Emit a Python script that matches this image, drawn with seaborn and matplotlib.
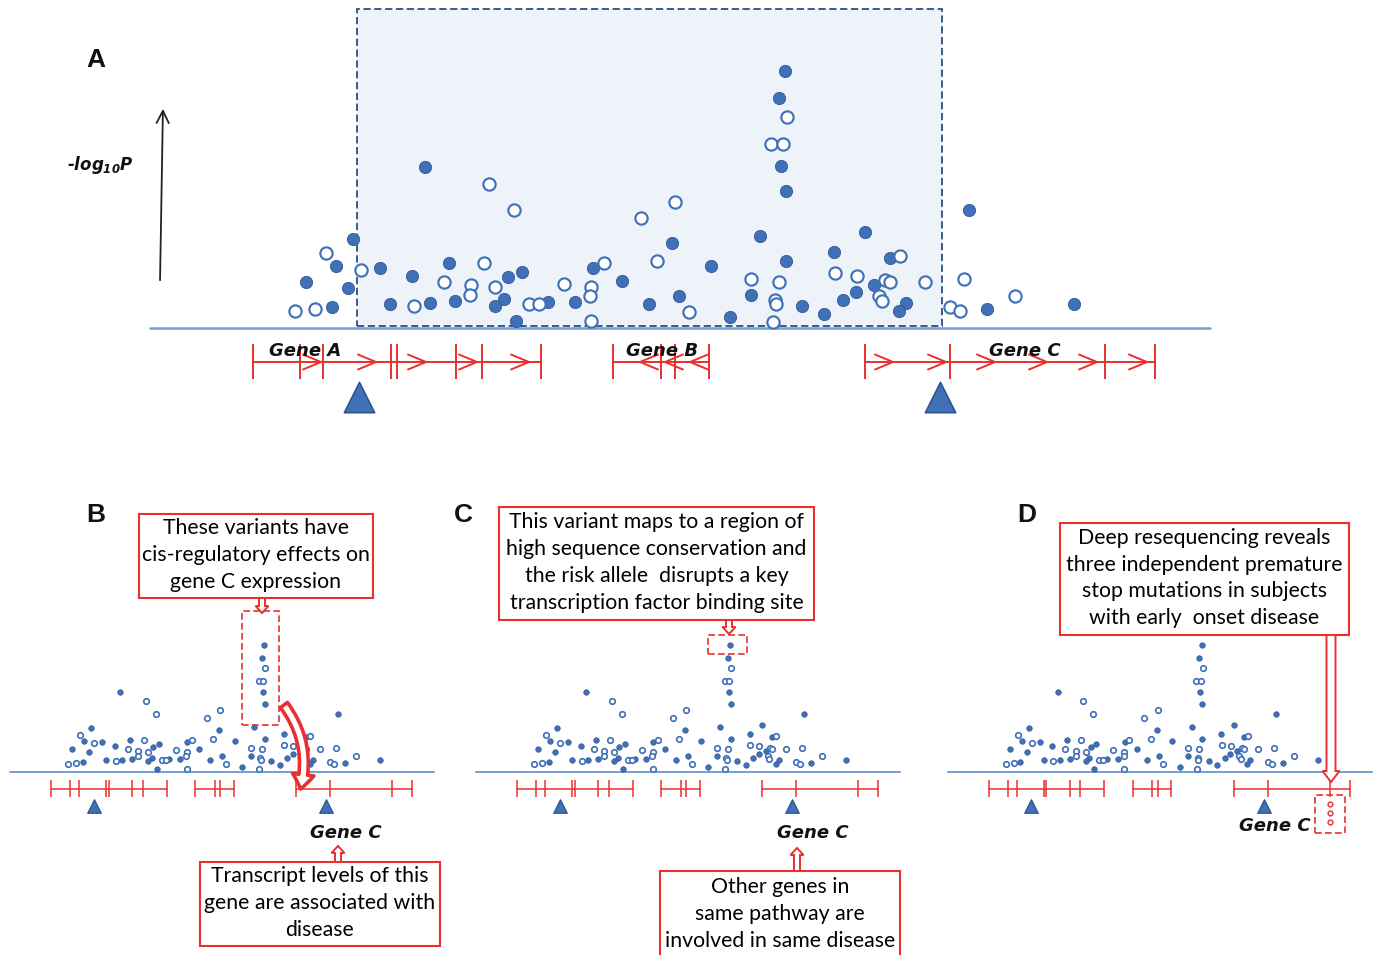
import pandas as pd
import seaborn as sns
import matplotlib.pyplot as plt
from matplotlib.patches import Rectangle, FancyArrow, FancyArrowPatch

# association signal across the locus: position (kb) and -log10 P
filled_pos = [182, 156, 186, 198, 203, 230, 240, 262, 275, 280, 299, 305, 358, 372, 354, 345,
              366, 398, 425, 443, 472, 499, 522, 529, 561, 580, 601, 610, 636, 636, 631, 629,
              635, 652, 674, 684, 693, 706, 715, 724, 740, 756, 749, 819, 837, 924]
filled_logp = [0.84, 1.84, 2.48, 1.6, 3.56, 2.4, 0.96, 2.08, 6.44, 1.0, 2.6, 1.08, 2.04, 2.24, 1.16, 0.88,
               0.28, 1.04, 1.04, 2.4, 1.88, 0.96, 3.4, 1.28, 2.48, 0.44, 1.32, 3.68, 2.68, 5.48, 6.48, 9.2,
               10.28, 0.88, 0.56, 3.04, 1.12, 1.44, 3.84, 1.72, 2.8, 1.0, 0.68, 4.72, 0.76, 0.96]
open_pos = [145, 165, 176, 211, 264, 294, 321, 320, 334, 339, 345, 364, 379, 389, 414, 441,
            440, 441, 454, 491, 507, 525, 539, 601, 625, 626, 623, 629, 621, 633, 637, 685,
            707, 729, 732, 735, 740, 750, 775, 800, 810, 814, 865]
open_logp = [0.68, 0.76, 3.0, 2.32, 0.88, 1.84, 1.72, 1.32, 2.6, 5.76, 1.64, 4.72, 0.96, 0.96, 1.76, 1.64,
             1.28, 0.28, 2.6, 4.4, 2.68, 5.04, 0.64, 1.96, 1.12, 0.96, 0.24, 1.84, 7.36, 7.36, 8.44, 2.2,
             2.08, 1.28, 1.08, 1.92, 1.84, 2.88, 1.84, 0.84, 0.68, 1.96, 1.28]

# gene models
gene_names = ["Gene A", "Gene B", "Gene C"]
gene_spans = [(103, 391), (463, 559), (715, 1005)]
gene_label_pos = [155, 512, 875]
exon_bounds = [103, 150, 173, 241, 247, 306, 332, 391, 463, 511, 525, 559, 715, 800, 955, 1005]
fwd_arrows = [171, 226, 276, 327, 379, 743, 796, 845, 897, 947, 997]
rev_arrows = [490, 515, 540]
lead_variants = [209, 790]
stop_pos = [955, 955, 955]
stop_logp = [-2.6, -3.3, -4.05]

snps = pd.DataFrame({
    "pos": filled_pos + open_pos,
    "logp": filled_logp + open_logp,
    "kind": ["filled"] * len(filled_pos) + ["open"] * len(open_pos),
})

BLUE = "#4070B8"
DARK = "#2C548F"
BASE = "#74A0D8"
RED = "#E8302F"
TRACK = -1.36
TRI = -2.75
W, H = 1380, 955

sns.set_theme(style="white")
plt.rcParams["mathtext.fontset"] = "custom"
plt.rcParams["mathtext.it"] = "DejaVu Sans:italic:bold"
plt.rcParams["mathtext.rm"] = "DejaVu Sans:italic:bold"

fig = plt.figure(figsize=(W / 100, H / 100), dpi=100)
fig.patch.set_facecolor("white")


def panel_axes(x0, sx, ybase, sy, xlim, ylim):
    # place an axes so that (pos, logp) land at the right pixels
    left = x0 + xlim[0] * sx
    right = x0 + xlim[1] * sx
    top = ybase - ylim[1] * sy
    bottom = ybase - ylim[0] * sy
    ax = fig.add_axes([left / W, 1 - bottom / H, (right - left) / W, (bottom - top) / H])
    return ax


def draw_locus(ax, dot, lw, tri, xlim, ylim, chevrons=False):
    ax.plot([0, 1060], [0, 0], color=BASE, lw=lw * 1.3, zorder=2)
    sns.scatterplot(data=snps[snps.kind == "filled"], x="pos", y="logp", s=dot, color=BLUE,
                    edgecolor=DARK, linewidth=lw * 0.4, ax=ax, zorder=4, legend=False)
    sns.scatterplot(data=snps[snps.kind == "open"], x="pos", y="logp", s=dot, color="white",
                    edgecolor=BLUE, linewidth=lw * 1.1, ax=ax, zorder=4, legend=False)
    for a, b in gene_spans:
        ax.plot([a, b], [TRACK, TRACK], color=RED, lw=lw, zorder=3)
    ax.vlines(exon_bounds, TRACK - 0.7, TRACK + 0.7, color=RED, lw=lw, zorder=3)
    if chevrons:
        for t in fwd_arrows:
            ax.plot([t - 18, t, t - 18], [TRACK + 0.3, TRACK, TRACK - 0.3], color=RED, lw=lw, zorder=3)
        for t in rev_arrows:
            ax.plot([t + 18, t, t + 18], [TRACK + 0.3, TRACK, TRACK - 0.3], color=RED, lw=lw, zorder=3)
    ax.scatter(lead_variants, [TRI] * len(lead_variants), marker="^", s=tri, color=BLUE,
               edgecolor=DARK, linewidth=lw * 0.8, zorder=4)
    ax.set_xlim(*xlim)
    ax.set_ylim(*ylim)
    ax.axis("off")


# panel A
xlA, ylA = (-150, 1230), (-4.08, 13.12)
axA = panel_axes(150, 1.0, 328, 25, xlA, ylA)
axA.add_patch(Rectangle((207, 0.08), 585, 12.68, facecolor="#EEF3FA", edgecolor="#2D4E80",
                        ls=(0, (4, 2)), lw=1.3, zorder=1))
draw_locus(axA, 78, 1.4, 480, xlA, ylA, chevrons=True)
for name, p in zip(gene_names, gene_label_pos):
    axA.text(p, -0.9, name, ha="center", va="center", fontsize=13, weight="bold",
             style="italic", family="DejaVu Sans", color="#111111", zorder=5)

# panels B, C, D: the same locus, shrunk
xlS, ylS = (-20, 1080), (-7, 13.5)
small = []
for x0 in [9.93, 475.93, 947.5]:
    ax = panel_axes(x0, 0.4005, 772, 12.35, xlS, ylS)
    draw_locus(ax, 16, 1.1, 95, xlS, ylS)
    small.append(ax)
axB, axC, axD = small

axB.add_patch(Rectangle((579, 3.8), 93, 9.2, fill=False, edgecolor=RED, ls=(0, (4, 2)), lw=1.2, zorder=5))
axB.add_patch(FancyArrowPatch((680, 5.6), (724, -1.6), connectionstyle="arc3,rad=-0.25",
                              arrowstyle="simple,tail_width=0.45,head_width=1.1,head_length=0.75",
                              mutation_scale=14, facecolor="white", edgecolor=RED, lw=2.6, zorder=6))
axC.add_patch(Rectangle((579, 9.55), 98, 1.55, fill=False, edgecolor=RED, ls=(0, (4, 2)), lw=1.2, zorder=5))
axD.add_patch(Rectangle((918, -4.94), 75, 3.08, fill=False, edgecolor=RED, ls=(0, (4, 2)), lw=1.2, zorder=5))
sns.scatterplot(x=stop_pos, y=stop_logp, s=12, color="white", edgecolor=RED, linewidth=1.0,
                ax=axD, zorder=6, legend=False)
axD.set_xlim(*xlS)
axD.set_ylim(*ylS)
axD.axis("off")

# overlay for labels, callouts and arrows (pixel coordinates)
ov = fig.add_axes([0, 0, 1, 1], facecolor="none", zorder=10)
ov.set_xlim(0, W)
ov.set_ylim(H, 0)
ov.axis("off")

for lab, x, y in [("A", 96, 60), ("B", 96, 515), ("C", 463, 515), ("D", 1027, 515)]:
    ov.text(x, y, lab, ha="center", va="center", fontsize=19, weight="bold",
            family="Liberation Sans", color="#111111")

ov.text(100, 165, r"-$log_{10}P$", ha="center", va="center", fontsize=12, weight="bold",
        style="italic", family="DejaVu Sans", color="#111111")
ov.annotate("", xy=(163, 106), xytext=(160, 283),
            arrowprops=dict(arrowstyle="->", lw=1.3, color="#222222", mutation_scale=22))

for x, y in [(346, 833), (813, 833), (1275, 826)]:
    ov.text(x, y, "Gene C", ha="center", va="center", fontsize=13, weight="bold",
            style="italic", family="DejaVu Sans", color="#111111")

boxes = [
    (139, 514, 373, 598, "These variants have\ncis-regulatory effects on\ngene C expression"),
    (200, 862, 440, 946, "Transcript levels of this\ngene are associated with\ndisease"),
    (499, 507, 814, 620, "This variant maps to a region of\nhigh sequence conservation and\n"
                         "the risk allele  disrupts a key\ntranscription factor binding site"),
    (660, 871, 900, 957, "Other genes in\nsame pathway are\ninvolved in same disease"),
    (1060, 523, 1349, 635, "Deep resequencing reveals\nthree independent premature\n"
                           "stop mutations in subjects\nwith early  onset disease"),
]
for x1, y1, x2, y2, txt in boxes:
    ov.add_patch(Rectangle((x1, y1), x2 - x1, y2 - y1, facecolor="white", edgecolor=RED, lw=1.5))
    ov.text((x1 + x2) / 2, (y1 + y2) / 2 - (1 if y2 < 950 else 0), txt, ha="center", va="center",
            fontsize=15.3, family="Lato", color="#000000", linespacing=1.42)

# hollow callout arrows
for x, y1, y2, w, hw, hl in [(262, 598, 613, 6, 13, 7), (338, 862, 846, 6, 13, 7),
                             (729, 620, 634, 6, 13, 7), (797, 871, 848, 6, 13, 7),
                             (1331, 635, 782, 9, 17, 11)]:
    ov.add_patch(FancyArrow(x, y1, 0, y2 - y1, width=w, head_width=hw, head_length=hl,
                            length_includes_head=True, facecolor="white", edgecolor=RED, lw=1.4))

fig.savefig("out.png", dpi=100)
